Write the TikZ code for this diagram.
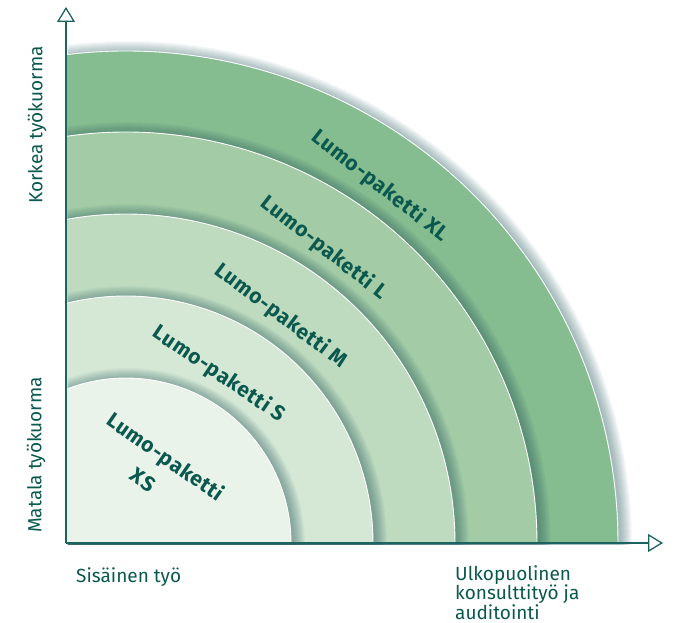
\documentclass[tikz,border=0pt]{standalone}
\usepackage{fontspec}
\setmainfont{Fira Sans}
\usepackage{tikz}
\usetikzlibrary{arrows.meta}
\usepackage{xcolor}
\definecolor{xlgreen}{RGB}{134,189,144}
\definecolor{lgreen}{RGB}{163,204,166}
\definecolor{mgreen}{RGB}{190,219,192}
\definecolor{sgreen}{RGB}{213,232,214}
\definecolor{xsgreen}{RGB}{233,243,234}
\definecolor{labelcol}{RGB}{10,88,78}
\definecolor{axiscol}{RGB}{28,100,98}
\definecolor{shadowcol}{RGB}{40,90,95}
\tikzset{
    axis/.style={
        draw=axiscol,
        line width=1.3pt,
        -{Triangle[open, length=15pt, width=18pt, line width=1.3pt, fill=white]}
    },
    pkglabel/.style={
        font=\fontsize{21}{24}\selectfont\bfseries\addfontfeatures{LetterSpace=3},
        text=labelcol,
        inner sep=0pt
    },
    axislabel/.style={
        font=\fontsize{19}{18}\selectfont,
        text=labelcol,
        inner sep=0pt
    }
}
% one quarter band: radius, colour (circle centre sits 60pt right of the y axis)
\newcommand{\lumoband}[2]{%
    \foreach \s in {1,...,12}
        \fill[shadowcol, opacity=0.045, shift={(2,-2)}]
            (0,0) -- (0,{(#1+\s)*sqrt(1-(60/(#1+\s))^2)})
            arc[start angle={180-acos(60/(#1+\s))}, end angle=0, radius={#1+\s}]
            -- cycle;
    \fill[#2] (0,0) -- (0,{#1*sqrt(1-(60/#1)^2)})
        arc[start angle={180-acos(60/#1)}, end angle=0, radius=#1] -- cycle;
    \draw[white, line width=0.9pt] (0,{#1*sqrt(1-(60/#1)^2)})
        arc[start angle={180-acos(60/#1)}, end angle=0, radius=#1];
}

\begin{document}
\begin{tikzpicture}[x=1pt, y=1pt]
    \useasboundingbox (-66,-80) rectangle (609,543);

    \lumoband{492}{xlgreen}
    \lumoband{411}{lgreen}
    \lumoband{329}{mgreen}
    \lumoband{247}{sgreen}
    \lumoband{165}{xsgreen}

    \coordinate (origin) at (0,0);
    \coordinate (ytip) at (0,536);
    \coordinate (xtip) at (597,0);
    \draw[axis] (origin) -- (ytip);
    \draw[axis] (origin) -- (xtip);

    \node[pkglabel, rotate=-38] (xl) at (314,357) {Lumo-paketti XL};
    \node[pkglabel, rotate=-38] (l) at (258,295) {Lumo-paketti L};
    \node[pkglabel, rotate=-37] (m) at (215,227) {Lumo-paketti M};
    \node[pkglabel, rotate=-34] (s) at (153,169) {Lumo-paketti S};
    \node[pkglabel, rotate=-35] (xs) at (99,85) {Lumo-paketti};
    \node[pkglabel, rotate=-35] (xs2) at (77,63) {XS};

    \node[axislabel, rotate=90] (high) at (-29,418) {Korkea työkuorma};
    \node[axislabel, rotate=90] (low) at (-30,88) {Matala työkuorma};
    \node[axislabel, anchor=base west] (inner) at (10,-40) {Sisäinen työ};
    \node[axislabel, anchor=north west, align=left] (outer) at (389,-22)
        {Ulkopuolinen\\konsulttityö ja\\auditointi};
\end{tikzpicture}
\end{document}
